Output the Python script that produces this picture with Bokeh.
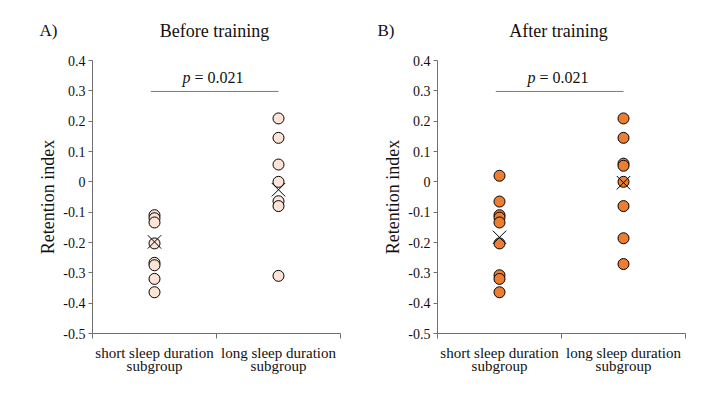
from bokeh.plotting import figure
from bokeh.models import FixedTicker, Range1d, Label, ColumnDataSource, Title
from bokeh.layouts import row, column
from bokeh.core.properties import value
from bokeh.embed import file_html
from bokeh.resources import INLINE

# ---- data ----
categories = ["short sleep duration\nsubgroup", "long sleep duration\nsubgroup"]
before_short = [-0.110, -0.120, -0.134, -0.203, -0.267, -0.275, -0.320, -0.364]
before_long = [0.209, 0.145, 0.057, 0.000, -0.064, -0.080, -0.310]
after_short = [0.020, -0.065, -0.110, -0.118, -0.134, -0.203, -0.308, -0.320, -0.364]
after_long = [0.209, 0.145, 0.060, 0.053, 0.000, -0.080, -0.186, -0.271]
before_means = [-0.198, -0.026]
after_means = [-0.183, -0.003]
y_ticks = [-0.5, -0.4, -0.3, -0.2, -0.1, 0.0, 0.1, 0.2, 0.3, 0.4]
y_tick_labels = ["-0.5", "-0.4", "-0.3", "-0.2", "-0.1", "0", "0.1", "0.2", "0.3", "0.4"]
p_value = "0.021"
panel_letters = ["A)", "B)"]
panel_titles = ["Before training", "After training"]

FONT = "Liberation Serif"
AXIS_COLOR = "#707070"
TEXT_COLOR = "#111111"
HEADER_H = 44
FRAME_W = 248


def make_header(letter, title, bl, br, letter_dx, title_dx):
    w = bl + FRAME_W + br
    h = figure(width=w, height=HEADER_H, x_range=Range1d(0, w), y_range=Range1d(HEADER_H, 0),
               output_backend="svg", toolbar_location=None, x_axis_type=None, y_axis_type=None,
               min_border=0, min_border_left=0, min_border_right=0, min_border_top=0,
               min_border_bottom=0)
    h.outline_line_color = None
    h.xgrid.visible = False
    h.ygrid.visible = False
    h.text(x=[bl + letter_dx], y=[30], text=[letter], text_font=value(FONT),
           text_font_size="17px", text_baseline="middle", text_align="left", text_color=TEXT_COLOR)
    h.text(x=[bl + FRAME_W / 2 + title_dx], y=[30], text=[title], text_font=value(FONT),
           text_font_size="18px", text_baseline="middle", text_align="center", text_color=TEXT_COLOR)
    return h


def make_panel(short, long_, means, fill, bl, br):
    p = figure(frame_width=FRAME_W, frame_height=273, x_range=Range1d(0, 2), y_range=Range1d(-0.5, 0.4),
               output_backend="svg", toolbar_location=None,
               min_border_left=bl, min_border_right=br, min_border_top=60 - HEADER_H,
               min_border_bottom=50)
    p.outline_line_color = None
    p.xgrid.visible = False
    p.ygrid.visible = False

    # x axis
    xa = p.xaxis[0]
    xa.ticker = FixedTicker(ticks=[i + 0.5 for i in range(len(categories))],
                            minor_ticks=[float(i) for i in range(len(categories) + 1)])
    xa.major_label_overrides = {i + 0.5: c for i, c in enumerate(categories)}
    xa.major_tick_out = 0
    xa.major_tick_in = 0
    xa.minor_tick_out = 5
    xa.minor_tick_in = 0
    xa.minor_tick_line_color = AXIS_COLOR
    xa.axis_line_color = AXIS_COLOR
    xa.major_label_text_font = FONT
    xa.major_label_text_font_size = "15px"
    xa.major_label_text_color = TEXT_COLOR
    xa.major_label_text_line_height = 0.85
    xa.major_label_standoff = 6

    # y axis
    ya = p.yaxis[0]
    ya.ticker = FixedTicker(ticks=y_ticks, minor_ticks=[])
    ya.major_label_overrides = {t: l for t, l in zip(y_ticks, y_tick_labels)}
    ya.major_tick_out = 4
    ya.major_tick_in = 0
    ya.minor_tick_line_color = None
    ya.major_tick_line_color = AXIS_COLOR
    ya.axis_line_color = AXIS_COLOR
    ya.major_label_text_font = FONT
    ya.major_label_text_font_size = "14px"
    ya.major_label_text_color = TEXT_COLOR
    ya.major_label_standoff = 3
    ya.axis_label = "Retention index"
    ya.axis_label_text_font = FONT
    ya.axis_label_text_font_size = "18px"
    ya.axis_label_text_font_style = "normal"
    ya.axis_label_text_color = TEXT_COLOR
    ya.axis_label_standoff = 2

    # points
    xs = [0.5] * len(short) + [1.5] * len(long_)
    src = ColumnDataSource(dict(x=xs, y=list(short) + list(long_)))
    p.scatter("x", "y", source=src, size=11, fill_color=fill, line_color="black", line_width=1)
    msrc = ColumnDataSource(dict(x=[i + 0.5 for i in range(len(means))], y=means))
    p.scatter("x", "y", source=msrc, marker="x", size=19, line_color="black", line_width=1)

    # significance bracket
    p.segment(x0=[0.47], y0=[0.298], x1=[1.5], y1=[0.298], line_color="#7a7a7a", line_width=1)
    p.add_layout(Label(x=0.726, y=0.345, text="p", text_font=FONT, text_font_style="italic",
                       text_font_size="16px", text_baseline="middle", text_align="left",
                       text_color=TEXT_COLOR))
    p.add_layout(Label(x=0.726, y=0.345, x_offset=12, text="= " + p_value, text_font=FONT,
                       text_font_size="16px", text_baseline="middle", text_align="left",
                       text_color=TEXT_COLOR))
    return p


ha = make_header(panel_letters[0], panel_titles[0], 92, 16, -53, -2)
hb = make_header(panel_letters[1], panel_titles[1], 81, 19, -60, -3)
pa = make_panel(before_short, before_long, before_means, "#FBE3D6", 92, 16)
pb = make_panel(after_short, after_long, after_means, "#ED7D31", 81, 19)

layout = column(row(ha, hb), row(pa, pb))
open("out.html", "w").write(file_html(layout, INLINE))
